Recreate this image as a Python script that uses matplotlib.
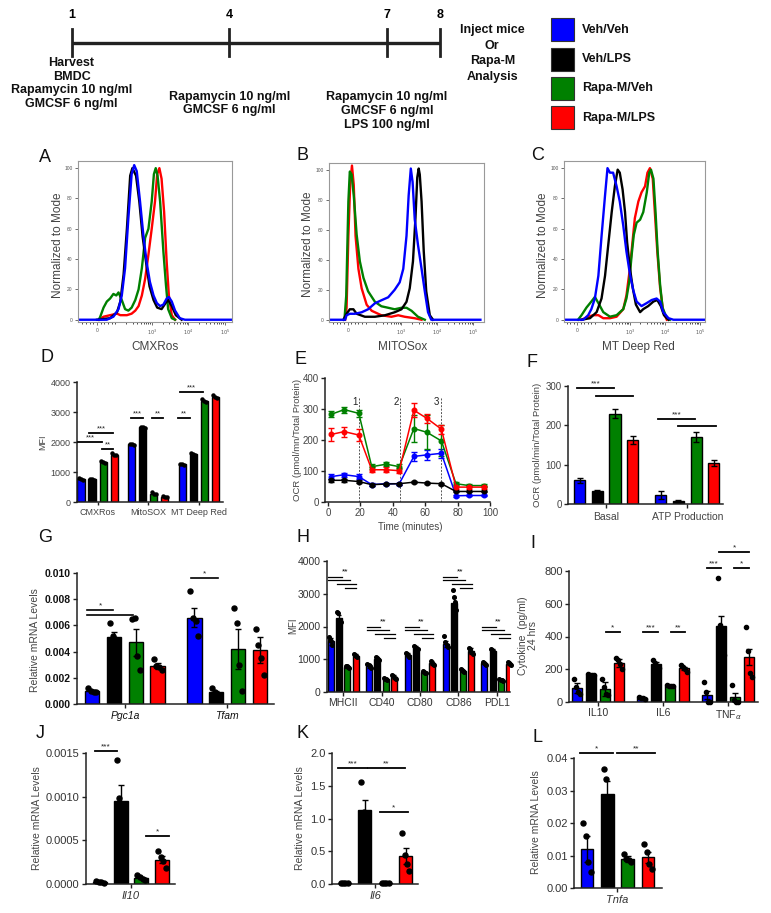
import numpy as np
import matplotlib
matplotlib.use('Agg')
import matplotlib.pyplot as plt
from matplotlib.patches import Rectangle

plt.rcParams['font.family'] = ['Liberation Sans', 'DejaVu Sans']

W, H = 771, 913
fig = plt.figure(figsize=(W / 100, H / 100), dpi=100)

groups = ['Veh/Veh', 'Veh/LPS', 'Rapa-M/Veh', 'Rapa-M/LPS']
colors = ['#0000ff', '#000000', '#008000', '#ff0000']

# ---- timeline ----
days = [1, 4, 7, 8]
note_day1 = ['Harvest', 'BMDC', 'Rapamycin 10 ng/ml', 'GMCSF 6 ng/ml']
note_day4 = ['Rapamycin 10 ng/ml', 'GMCSF 6 ng/ml']
note_day7 = ['Rapamycin 10 ng/ml', 'GMCSF 6 ng/ml', 'LPS 100 ng/ml']
note_end = ['Inject mice', 'Or', 'Rapa-M', 'Analysis']

# ---- flow histograms (x = display decade position, 0 at 1.5; y = % of mode) ----
A_VV = [(1.0, 0), (1.77, 0), (1.95, 2), (2.09, 7), (2.18, 16), (2.27, 34), (2.36, 67), (2.45, 96), (2.52, 102),
        (2.59, 98), (2.68, 78), (2.77, 56), (2.86, 38), (2.95, 25), (3.05, 16), (3.14, 11), (3.23, 9), (3.32, 10),
        (3.41, 14), (3.47, 15), (3.55, 12), (3.64, 6), (3.77, 1), (3.91, 0), (5.2, 0)]
A_VL = [(1.5, 0), (1.86, 1), (2.05, 5), (2.14, 12), (2.23, 30), (2.32, 60), (2.41, 95), (2.47, 100), (2.57, 95),
        (2.66, 78), (2.75, 55), (2.85, 37), (2.94, 22), (3.05, 13), (3.15, 8), (3.27, 7), (3.38, 11), (3.45, 13),
        (3.55, 9), (3.66, 3), (3.82, 0)]
A_RV = [(1.55, 0), (1.59, 2), (1.68, 8), (1.77, 12), (1.86, 14), (1.95, 17), (2.03, 16), (2.09, 18), (2.18, 13),
        (2.27, 7), (2.36, 6), (2.45, 8), (2.55, 13), (2.64, 20), (2.73, 34), (2.82, 54), (2.91, 60), (3.0, 78),
        (3.06, 96), (3.11, 100), (3.16, 95), (3.23, 78), (3.32, 45), (3.39, 23), (3.45, 7), (3.55, 1), (3.64, 0)]
A_RL = [(1.55, 0), (1.68, 2), (1.86, 3), (2.05, 4), (2.14, 3), (2.32, 3), (2.45, 4), (2.55, 6), (2.64, 9),
        (2.73, 16), (2.82, 27), (2.91, 43), (3.0, 60), (3.09, 78), (3.15, 96), (3.21, 100), (3.27, 93), (3.34, 71),
        (3.41, 38), (3.47, 16), (3.55, 3), (3.64, 0)]

B_VV = [(0.98, 0), (1.43, 0), (1.47, 3), (1.56, 4), (1.70, 4), (1.89, 5), (2.07, 7), (2.26, 11), (2.44, 13),
        (2.63, 15), (2.81, 20), (2.95, 25), (3.05, 34), (3.14, 56), (3.20, 83), (3.26, 101), (3.31, 92), (3.37, 67),
        (3.46, 50), (3.56, 34), (3.65, 19), (3.74, 5), (3.83, 0), (5.2, 0)]
B_VL = [(1.38, 0), (1.47, 4), (1.56, 7), (1.66, 7), (1.75, 4), (1.98, 2), (2.26, 2), (2.54, 3), (2.81, 5),
        (3.0, 7), (3.14, 12), (3.23, 21), (3.32, 39), (3.39, 68), (3.44, 95), (3.48, 101), (3.51, 97), (3.56, 79),
        (3.62, 46), (3.69, 19), (3.79, 3), (3.88, 0)]
B_RV = [(1.41, 0), (1.46, 16), (1.52, 79), (1.56, 99), (1.61, 97), (1.67, 83), (1.75, 57), (1.84, 39), (1.94, 28),
        (2.07, 19), (2.26, 12), (2.44, 9), (2.63, 8), (2.81, 7), (3.0, 8), (3.14, 8), (3.28, 6), (3.46, 2), (3.65, 0)]
B_RL = [(1.43, 0), (1.47, 8), (1.52, 56), (1.57, 90), (1.62, 103), (1.67, 90), (1.72, 56), (1.80, 34), (1.89, 21),
        (2.03, 10), (2.17, 6), (2.44, 3), (2.72, 2), (2.91, 3), (3.09, 2), (3.37, 1), (3.56, 0)]

C_VV = [(1.12, 0), (1.67, 0), (1.81, 3), (1.90, 7), (2.0, 14), (2.10, 29), (2.19, 55), (2.29, 82), (2.36, 100),
        (2.43, 97), (2.52, 97), (2.62, 88), (2.71, 78), (2.81, 62), (2.90, 45), (3.0, 30), (3.10, 19), (3.19, 12),
        (3.33, 9), (3.48, 11), (3.62, 13), (3.76, 14), (3.86, 12), (3.95, 5), (4.10, 1), (4.24, 0), (5.14, 0)]
C_VL = [(1.62, 0), (1.86, 1), (2.05, 5), (2.19, 14), (2.29, 29), (2.38, 49), (2.48, 71), (2.57, 88), (2.65, 99),
        (2.71, 97), (2.79, 86), (2.86, 71), (2.92, 51), (3.0, 34), (3.08, 21), (3.17, 10), (3.29, 5), (3.38, 7),
        (3.52, 9), (3.67, 12), (3.78, 13), (3.88, 9), (3.97, 3), (4.10, 0)]
C_RV = [(1.52, 0), (1.62, 3), (1.76, 8), (1.90, 12), (2.0, 15), (2.10, 11), (2.24, 5), (2.43, 2), (2.62, 3),
        (2.81, 7), (2.90, 14), (2.98, 25), (3.05, 43), (3.11, 56), (3.19, 64), (3.29, 66), (3.38, 71), (3.48, 84),
        (3.55, 97), (3.60, 99), (3.67, 93), (3.73, 71), (3.79, 45), (3.86, 23), (3.93, 8), (4.05, 1), (4.14, 0)]
C_RL = [(1.62, 0), (1.81, 2), (1.95, 3), (2.10, 3), (2.24, 1), (2.43, 1), (2.62, 2), (2.81, 7), (2.90, 16),
        (3.0, 34), (3.08, 53), (3.14, 67), (3.24, 78), (3.33, 84), (3.43, 88), (3.50, 97), (3.57, 100), (3.65, 93),
        (3.71, 71), (3.78, 45), (3.86, 21), (3.95, 5), (4.05, 0)]

# ---- D: MFI ----
D_cats = ['CMXRos', 'MitoSOX', 'MT Deep Red']
D_mean = [[760, 1920, 1250], [750, 2490, 1590], [1330, 280, 3380], [1580, 170, 3510]]
D_dots = [[[810, 760, 720], [1950, 1920, 1890], [1270, 1250, 1230]],
          [[770, 750, 730], [2510, 2490, 2470], [1620, 1590, 1560]],
          [[1360, 1330, 1310], [330, 280, 250], [3420, 3380, 3350]],
          [[1620, 1580, 1560], [210, 170, 150], [3560, 3510, 3480]]]
D_sig = [(-0.386, 0.089, 2000, '***'), (-0.168, 0.307, 2310, '***'), (0.089, 0.307, 1780, '**'),
         (0.663, 0.901, 2800, '***'), (1.079, 1.297, 2800, '**'), (1.594, 1.832, 2800, '**'),
         (1.634, 2.089, 3670, '***')]

# ---- E: Seahorse OCR ----
E_time = [2, 10, 19, 27, 36, 44, 53, 61, 70, 79, 87, 96]
E_mean = [[82, 88, 82, 56, 59, 59, 147, 152, 157, 20, 21, 21],
          [70, 70, 66, 56, 58, 59, 64, 61, 59, 34, 34, 34],
          [283, 298, 286, 114, 122, 114, 237, 225, 197, 59, 53, 53],
          [218, 227, 216, 104, 104, 101, 296, 270, 235, 48, 48, 48]]
E_err = [[8, 6, 8, 4, 3, 3, 15, 15, 15, 4, 3, 3],
         [5, 5, 5, 3, 3, 3, 3, 3, 3, 3, 3, 3],
         [10, 10, 12, 8, 6, 8, 45, 55, 50, 5, 5, 5],
         [20, 16, 20, 8, 8, 8, 22, 14, 15, 5, 5, 5]]
E_inject = [19.4, 44.4, 69.6]
E_inject_lbl = ['1', '2', '3']

# ---- F: OCR bars ----
F_cats = ['Basal', 'ATP Production']
F_mean = [[60, 23], [33, 8], [230, 170], [163, 105]]
F_err = [[7, 10], [2, 2], [12, 13], [11, 8]]
F_sig = [(-0.358, 0.099, 294, '***'), (-0.123, 0.333, 274, ''), (0.642, 1.099, 217, '***'),
         (0.889, 1.358, 199, '')]

# ---- G: mRNA ----
G_cats = ['Pgc1a', 'Tfam']
G_mean = [[0.0010, 0.0066], [0.0051, 0.0009], [0.0047, 0.0042], [0.0029, 0.0041]]
G_err = [[0.0001, 0.0007], [0.0004, 0.0001], [0.0010, 0.0015], [0.0002, 0.0010]]
G_dots = [[[0.0012, 0.0010, 0.0009, 0.0009], [0.0086, 0.0066, 0.0063, 0.0052]],
          [[0.0062, 0.0052, 0.0050, 0.0048], [0.0012, 0.0009, 0.0008, 0.0007]],
          [[0.0065, 0.0066, 0.0037, 0.0026], [0.0073, 0.0062, 0.0030, 0.0010]],
          [[0.0034, 0.0029, 0.0028, 0.0026], [0.0057, 0.0045, 0.0035, 0.0022]]]
G_sig = [(-0.37, -0.115, 0.0072, '*'), (-0.37, 0.081, 0.0068, ''), (0.65, 0.915, 0.0096, '*')]

# ---- H: surface markers MFI ----
H_cats = ['MHCII', 'CD40', 'CD80', 'CD86', 'PDL1']
H_mean = [[1550, 800, 1130, 1470, 880], [2250, 1020, 1350, 2730, 1250],
          [760, 400, 600, 640, 370], [1110, 460, 880, 1250, 870]]
H_err = [[100, 60, 60, 100, 40], [100, 40, 50, 150, 50], [30, 30, 30, 40, 20], [40, 50, 60, 80, 40]]
H_dots = [[[1680, 1600, 1550, 1450], [870, 830, 780, 720], [1200, 1150, 1120, 1060], [1700, 1520, 1450, 1380],
           [930, 900, 870, 830]],
          [[2450, 2400, 2200, 2150], [1060, 1040, 1010, 980], [1400, 1370, 1340, 1300], [3100, 2900, 2750, 2500],
           [1300, 1270, 1240, 1200]],
          [[800, 780, 750, 720], [440, 410, 390, 370], [640, 610, 590, 570], [700, 660, 630, 600],
           [400, 380, 360, 350]],
          [[1170, 1130, 1100, 1070], [520, 480, 440, 400], [950, 900, 860, 820], [1350, 1300, 1230, 1150],
           [920, 890, 860, 820]]]
H_sig_levels = [[3510, 3420, 3300, 3180], [1990, 1900, 1780, 1650], [1990, 1900, 1780, 1650],
                [3510, 3420, 3300, 3180], [1990, 1900, 1780, 1650]]
H_sig_spans = [(-0.39, -0.03), (-0.39, 0.18), (-0.16, 0.34), (0.05, 0.34)]

# ---- I: cytokines ----
I_cats = ['IL10', 'IL6', 'TNF$_{\\alpha}$']
I_mean = [[85, 24, 45], [165, 230, 465], [80, 100, 30], [240, 206, 275]]
I_err = [[30, 3, 25], [2, 15, 60], [45, 3, 25], [25, 10, 50]]
I_dots = [[[140, 90, 60, 50], [28, 25, 24, 20], [125, 60, 0, 0]],
          [[168, 165, 163, 164], [255, 240, 220, 205], [760, 470, 340, 290]],
          [[140, 90, 50, 40], [102, 100, 99, 98], [105, 15, 0, 0]],
          [[270, 255, 235, 200], [225, 215, 200, 185], [460, 310, 180, 150]]]
I_sig = [(0.123, 0.338, 425, '*'), (0.692, 0.923, 425, '***'), (1.123, 1.338, 425, '**'),
         (1.677, 1.892, 820, '***'), (2.092, 2.323, 820, '*'), (1.862, 2.323, 915, '*')]

# ---- J/K/L: single-gene mRNA ----
J_mean = [0.00002, 0.00095, 0.00007, 0.00028]
J_err = [0.000005, 0.00018, 0.00001, 0.00004]
J_dots = [[0.00003, 0.00002, 0.00002, 0.00001], [0.00142, 0.00098, 0.0008, 0.0006],
          [0.0001, 0.00008, 0.00006, 0.00005], [0.00038, 0.00031, 0.00026, 0.00018]]
J_sig = [(-1.74, -0.68, 0.00152, '***'), (0.72, 1.84, 0.00055, '*')]

K_mean = [0.01, 1.13, 0.01, 0.43]
K_err = [0.003, 0.15, 0.003, 0.12]
K_dots = [[0.012, 0.01, 0.01, 0.008], [1.55, 1.1, 1.0, 0.88], [0.012, 0.01, 0.01, 0.008], [0.78, 0.45, 0.3, 0.2]]
K_sig = [(-1.8, -0.39, 1.77, '***'), (-0.34, 1.46, 1.77, '**'), (0.24, 1.6, 1.1, '*')]

L_mean = [0.012, 0.029, 0.009, 0.0095]
L_err = [0.004, 0.004, 0.001, 0.0017]
L_dots = [[0.020, 0.016, 0.008, 0.005], [0.0365, 0.0335, 0.026, 0.020], [0.0105, 0.009, 0.0085, 0.008],
          [0.0135, 0.011, 0.0075, 0.006]]
L_sig = [(-1.85, -0.22, 0.0415, '*'), (-0.02, 1.85, 0.0415, '**')]

TXT = '#333333'


def px_axes(l, t, r, b):
    return fig.add_axes([l / W, 1 - b / H, (r - l) / W, (b - t) / H])


def ftext(x, y, s, **kw):
    kw.setdefault('ha', 'center')
    kw.setdefault('va', 'center')
    fig.text(x / W, 1 - y / H, s, **kw)


def flow(ax, curves, xlim):
    for k in [3, 2, 1, 0]:
        u, y = zip(*curves[k])
        ax.plot(u, y, color=colors[k], lw=1.7, solid_joinstyle='round')
    ax.set_xlim(xlim)
    ax.set_ylim(-1.5, 104.7)
    ax.set_xticks([1.5, 3, 4, 5])
    ax.set_xticklabels(['0', '$10^3$', '$10^4$', '$10^5$'])
    minor = [1.1, 1.2, 1.3, 1.4, 1.6, 1.7, 1.8, 1.9, 2.0]
    for d in (2, 3, 4):
        minor += [d + np.log10(k) for k in range(2, 10)]
    ax.set_xticks([m for m in minor if xlim[0] < m < xlim[1]], minor=True)
    ax.set_yticks([0, 20, 40, 60, 80, 100])
    ax.tick_params(labelsize=3.5, colors='#555', length=2.5, width=0.6, pad=1.5)
    ax.tick_params(which='minor', length=1.3, width=0.5)
    for s in ax.spines.values():
        s.set_color('#999')
        s.set_linewidth(0.8)


def style(ax, ylim, yticks, ylabels, fs, bold=False, tcolor=TXT):
    ax.spines['top'].set_visible(False)
    ax.spines['right'].set_visible(False)
    for s in ('left', 'bottom'):
        ax.spines[s].set_linewidth(1.1)
        ax.spines[s].set_color('#222')
    ax.spines['left'].set_bounds(ylim[0], yticks[-1])
    ax.set_ylim(ylim)
    ax.set_yticks(yticks)
    ax.set_yticklabels(ylabels, fontsize=fs, color=tcolor, fontweight='bold' if bold else 'normal')
    ax.tick_params(axis='both', length=3, width=1, colors='#222', pad=1.5)
    ax.tick_params(axis='x', labelsize=fs, labelcolor=tcolor)
    ax.tick_params(axis='y', labelcolor=tcolor)


def bars(ax, means, errs, dots, spacing, width, ms, cap):
    ng = len(means[0])
    offs = (np.arange(4) - 1.5) * spacing
    for k in range(4):
        x = np.arange(ng) + offs[k]
        ax.bar(x, means[k], width, color=colors[k], edgecolor='black', linewidth=1, zorder=2)
        if errs is not None:
            ax.errorbar(x, means[k], yerr=errs[k], fmt='none', ecolor='black', elinewidth=1,
                        capsize=cap, capthick=1, zorder=3, clip_on=False)
        if dots is not None:
            for g in range(ng):
                vals = dots[k][g]
                jit = np.linspace(-0.28, 0.28, len(vals)) * width
                ax.plot(x[g] + jit, vals, 'o', color='black', ms=ms, zorder=4, clip_on=False)


def sig(ax, x0, x1, y, txt, fs=6, lw=1.2):
    ax.plot([x0, x1], [y, y], color='black', lw=lw, clip_on=False, zorder=5)
    if txt:
        ax.annotate(txt, ((x0 + x1) / 2, y), xytext=(0, 0.5), textcoords='offset points',
                    ha='center', va='bottom', fontsize=fs, color='#222', annotation_clip=False)


# ================= timeline =================
px_per_day = 52.6
ax_t = px_axes(0, 0, W, 135)
ax_t.set_xlim(1 - 71.5 / px_per_day, 1 + (W - 71.5) / px_per_day)
ax_t.set_ylim(135, 0)
ax_t.axis('off')
ax_t.plot([days[0], days[-1]], [43, 43], color='#222', lw=2.4, solid_capstyle='butt')
for d in days:
    ax_t.plot([d, d], [29, 56], color='#222', lw=2)
    ax_t.text(d, 15, str(d), ha='center', va='center', fontsize=9, fontweight='bold')
tl_kw = dict(ha='center', va='center', fontsize=9, fontweight='bold', color='#111')
for i, s in enumerate(note_day1):
    ax_t.text(days[0], 63 + 13.5 * i, s, **tl_kw)
for i, s in enumerate(note_day4):
    ax_t.text(days[1], 97 + 13.5 * i, s, **tl_kw)
for i, s in enumerate(note_day7):
    ax_t.text(days[2], 97 + 14 * i, s, **tl_kw)
for i, s in enumerate(note_end):
    ax_t.text(days[3] + 1.0, 30 + 15.7 * i, s, **tl_kw)

ax_l = px_axes(540, 0, W, 135)
ax_l.set_xlim(0, W - 540)
ax_l.set_ylim(135, 0)
ax_l.axis('off')
for i, (g, c) in enumerate(zip(groups, colors)):
    yc = 30 + 29.2 * i
    ax_l.add_patch(Rectangle((11, yc - 11.5), 23, 23, facecolor=c, edgecolor='#333', lw=0.8))
    ax_l.text(42, yc, g, ha='left', va='center', fontsize=9, fontweight='bold', color='#111')

# ================= A-C flow =================
axA = px_axes(78, 161, 232, 322)
flow(axA, [A_VV, A_VL, A_RV, A_RL], (0.98, 5.2))
axB = px_axes(329, 163, 484, 322)
flow(axB, [B_VV, B_VL, B_RV, B_RL], (0.98, 5.3))
axC = px_axes(564, 161, 705, 322)
flow(axC, [C_VV, C_VL, C_RV, C_RL], (1.12, 5.14))
for x, y, s in [(58, 245, 'Normalized to Mode'), (308, 244, 'Normalized to Mode'), (543, 245, 'Normalized to Mode')]:
    ftext(x, y, s, rotation=90, fontsize=8.5, color='#444')
for x, s in [(155, 'CMXRos'), (403, 'MITOSox'), (638, 'MT Deep Red')]:
    ftext(x, 347, s, fontsize=8.5, color='#444')

# ================= D =================
axD = px_axes(77, 382, 223, 502)
bars(axD, D_mean, None, D_dots, 0.218, 0.14, 2.2, 0)
axD.set_xlim(-0.406, 2.48)
style(axD, (0, 4000), [0, 1000, 2000, 3000, 4000], ['0', '1000', '2000', '3000', '4000'], 6.5, tcolor='#444')
axD.set_xticks(range(3))
axD.set_xticklabels(D_cats)
axD.tick_params(axis='x', labelsize=6.5, length=2.5)
for x0, x1, y, t in D_sig:
    sig(axD, x0, x1, y, t, fs=5.5, lw=1.3)
ftext(43, 442, 'MFI', rotation=90, fontsize=6.5, color='#444')

# ================= E =================
axE = px_axes(325, 378, 490, 502)
for k in range(4):
    axE.errorbar(E_time, E_mean[k], yerr=E_err[k], color=colors[k], marker='o', ms=3.3, lw=1.1,
                 elinewidth=1, capsize=2, capthick=1, zorder=3)
for t, s in zip(E_inject, E_inject_lbl):
    axE.plot([t, t], [0, 340], color='#555', lw=0.7, ls=(0, (2, 1.5)), zorder=1)
    axE.text(t - 0.8, 322, s, ha='right', va='center', fontsize=7, color='#222')
axE.set_xlim(-1.85, 100)
style(axE, (0, 400), [0, 100, 200, 300, 400], ['0', '100', '200', '300', '400'], 7, tcolor='#444')
axE.set_xticks([0, 20, 40, 60, 80, 100])
axE.set_xticklabels(['0', '20', '40', '60', '80', '100'])
axE.tick_params(axis='x', labelsize=7)
ftext(297, 440, 'OCR (pmol/mn/Total Protein)', rotation=90, fontsize=6.8, color='#444')
ftext(410, 527, 'Time (minutes)', fontsize=7, color='#444')

# ================= F =================
axF = px_axes(568, 386, 723, 504)
bars(axF, F_mean, F_err, None, 0.218, 0.136, 0, 2.2)
axF.set_xlim(-0.47, 1.44)
style(axF, (0, 300), [0, 100, 200, 300], ['0', '100', '200', '300'], 7, tcolor='#444')
axF.set_xticks(range(2))
axF.set_xticklabels(F_cats)
axF.tick_params(axis='x', labelsize=7.5, pad=3)
for x0, x1, y, t in F_sig:
    sig(axF, x0, x1, y, t, fs=6, lw=1.3)
ftext(538, 445, 'OCR (pmol/min/Total Protein)', rotation=90, fontsize=6.8, color='#444')

# ================= G =================
axG = px_axes(77, 573, 274, 704)
bars(axG, G_mean, G_err, G_dots, 0.214, 0.142, 3.6, 2.5)
axG.set_xlim(-0.47, 1.46)
style(axG, (0, 0.010), [0, 0.002, 0.004, 0.006, 0.008, 0.010],
      ['0.000', '0.002', '0.004', '0.006', '0.008', '0.010'], 7.5, bold=True, tcolor='#111')
axG.set_xticks(range(2))
axG.set_xticklabels(G_cats, fontstyle='italic')
axG.tick_params(axis='x', labelsize=7.5, pad=2)
for x0, x1, y, t in G_sig:
    sig(axG, x0, x1, y, t, fs=6, lw=1.2)
ftext(35, 640, 'Relative mRNA Levels', rotation=90, fontsize=7.5, color='#444')

# ================= H =================
axH = px_axes(327, 561, 510, 692)
bars(axH, H_mean, H_err, H_dots, 0.216, 0.156, 2.6, 1.2)
axH.set_xlim(-0.42, 4.34)
style(axH, (0, 4000), [0, 1000, 2000, 3000, 4000], ['0', '1000', '2000', '3000', '4000'], 7.5)
axH.set_xticks(range(5))
axH.set_xticklabels(H_cats)
axH.tick_params(axis='x', labelsize=7.5)
for g, levels in enumerate(H_sig_levels):
    for (a, b), y in zip(H_sig_spans, levels):
        sig(axH, g + a, g + b, y, '', lw=0.9)
    axH.annotate('**', (g + 0.04, levels[0]), xytext=(0, 1), textcoords='offset points',
                 ha='center', va='bottom', fontsize=6, annotation_clip=False)
ftext(293, 626, 'MFI', rotation=90, fontsize=7, color='#444')

# ================= I =================
axI = px_axes(569, 571, 758, 702)
bars(axI, I_mean, I_err, I_dots, 0.215, 0.15, 3.0, 2)
axI.set_xlim(-0.446, 2.46)
style(axI, (0, 800), [0, 200, 400, 600, 800], ['0', '200', '400', '600', '800'], 8)
axI.set_xticks(range(3))
axI.set_xticklabels(I_cats)
axI.tick_params(axis='x', labelsize=7.5)
for x0, x1, y, t in I_sig:
    sig(axI, x0, x1, y, t, fs=6, lw=1.3)
ftext(528, 636, 'Cytokine  (pg/ml)\n24 hrs', rotation=90, fontsize=7.5, color='#444',
      multialignment='center', linespacing=1.0)

# ================= J/K/L =================
single = [
    ((86, 753, 175, 884), J_mean, J_err, J_dots, J_sig, (-2.17, 2.13), (0, 0.0015),
     [0, 0.0005, 0.0010, 0.0015], ['0.0000', '0.0005', '0.0010', '0.0015'], 'Il10', 0.68, (37, 818)),
    ((332, 753, 418, 884), K_mean, K_err, K_dots, K_sig, (-2.09, 2.09), (0, 2.0),
     [0, 0.5, 1.0, 1.5, 2.0], ['0.0', '0.5', '1.0', '1.5', '2.0'], 'Il6', 0.63, (300, 818)),
    ((574, 758, 662, 888), L_mean, L_err, L_dots, L_sig, (-2.14, 2.19), (0, 0.04),
     [0, 0.01, 0.02, 0.03, 0.04], ['0.00', '0.01', '0.02', '0.03', '0.04'], 'Tnfa', 0.63, (536, 822)),
]
for rect, m, e, d, sg, xl, yl, yt, ytl, gene, wd, lab in single:
    ax = px_axes(*rect)
    bars(ax, [[v] for v in m], [[v] for v in e], [[v] for v in d], 1.0, wd, 3.6, 2.5)
    ax.set_xlim(xl)
    style(ax, yl, yt, ytl, 8)
    ax.set_xticks([0])
    ax.set_xticklabels([gene], fontstyle='italic')
    ax.tick_params(axis='x', labelsize=8, pad=2)
    for x0, x1, y, t in sg:
        sig(ax, x0, x1, y, t, fs=6, lw=1.3)
    ftext(lab[0], lab[1], 'Relative mRNA Levels', rotation=90, fontsize=7.5, color='#444')

# ================= panel letters =================
for x, y, s in [(45, 157, 'A'), (302, 155, 'B'), (538, 155, 'C'), (47, 357, 'D'), (300, 360, 'E'),
                (532, 362, 'F'), (45, 538, 'G'), (303, 538, 'H'), (533, 543, 'I'), (40, 733, 'J'),
                (302, 733, 'K'), (537, 738, 'L')]:
    ftext(x, y, s, fontsize=13, color='#111')

fig.savefig('out.png', dpi=100)
